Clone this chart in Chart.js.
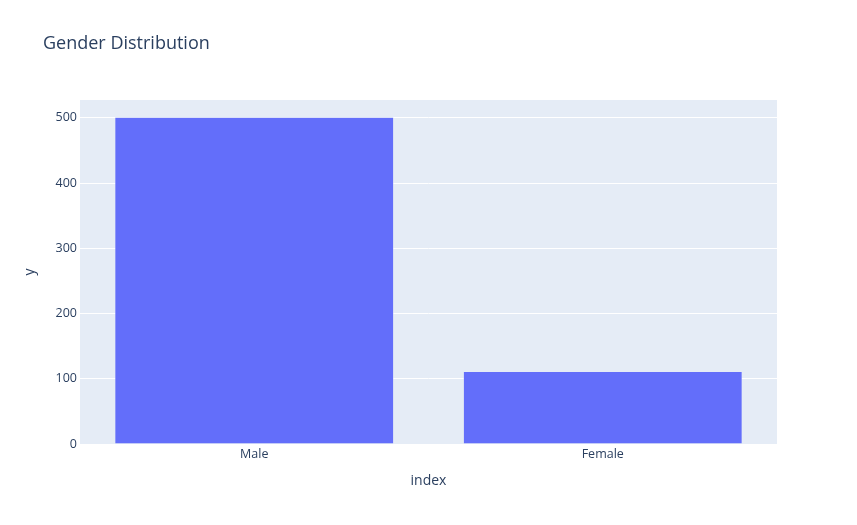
<!DOCTYPE html>
<html>
<head>
<meta charset="utf-8">
<script src="https://cdn.jsdelivr.net/npm/chart.js@4"></script>
<style>
  html, body { margin: 0; padding: 0; background: #fff; }
  #wrap { width: 857px; height: 525px; }
</style>
</head>
<body>
<div id="wrap"><canvas id="genderChart"></canvas></div>
<script>
// Data
const categories = ['Male', 'Female'];
const counts = [501, 111];
const yMax = 527.5;
const yStep = 100;

// plot background + title like plotly
const plotlyLook = {
    id: 'plotlyLook',
    beforeDraw(chart) {
        const { ctx, chartArea } = chart;
        ctx.save();
        ctx.fillStyle = '#E5ECF6';
        ctx.fillRect(chartArea.left, chartArea.top, chartArea.right - chartArea.left, chartArea.bottom - chartArea.top);
        ctx.restore();
    },
    afterDraw(chart) {
        const ctx = chart.ctx;
        ctx.save();
        ctx.font = '18px "Open Sans", sans-serif';
        ctx.fillStyle = '#2a3f5f';
        ctx.textBaseline = 'middle';
        ctx.fillText('Gender Distribution', 43, 44);
        ctx.restore();
    }
};

const ctx = document.getElementById('genderChart').getContext('2d');
new Chart(ctx, {
    type: 'bar',
    data: {
        labels: categories,
        datasets: [{
            label: 'count',
            data: counts,
            backgroundColor: '#636EFA',
            borderColor: '#E5ECF6',
            borderWidth: 0.5,
            barPercentage: 0.8,
            categoryPercentage: 1.0
        }]
    },
    options: {
        responsive: true,
        maintainAspectRatio: false,
        animation: false,
        layout: { padding: { left: 0, right: 80, top: 100, bottom: 0 } },
        plugins: {
            legend: { display: false },
            tooltip: { enabled: false }
        },
        scales: {
            x: {
                grid: { display: false, drawTicks: false },
                border: { display: false },
                ticks: { color: '#2a3f5f', font: { family: 'Open Sans', size: 12.5 }, padding: 3 },
                title: {
                    display: true, text: 'index', color: '#2a3f5f',
                    font: { family: 'Open Sans', size: 14 },
                    padding: { top: 0, bottom: 36 }
                },
                afterFit(scale) { scale.height = 81; }
            },
            y: {
                min: 0,
                max: yMax,
                grid: { color: '#ffffff', lineWidth: 1, drawTicks: false },
                border: { display: false },
                ticks: { stepSize: yStep, color: '#2a3f5f', font: { family: 'Open Sans', size: 12.5 }, padding: 3 },
                afterBuildTicks(scale) {
                    scale.ticks = scale.ticks.filter(t => t.value % yStep === 0);
                },
                title: {
                    display: true, text: 'y', color: '#2a3f5f',
                    font: { family: 'Open Sans', size: 14 },
                    padding: { top: 22, bottom: 0 }
                },
                afterFit(scale) { scale.width = 80; }
            }
        }
    },
    plugins: [plotlyLook]
});
</script>
</body>
</html>
